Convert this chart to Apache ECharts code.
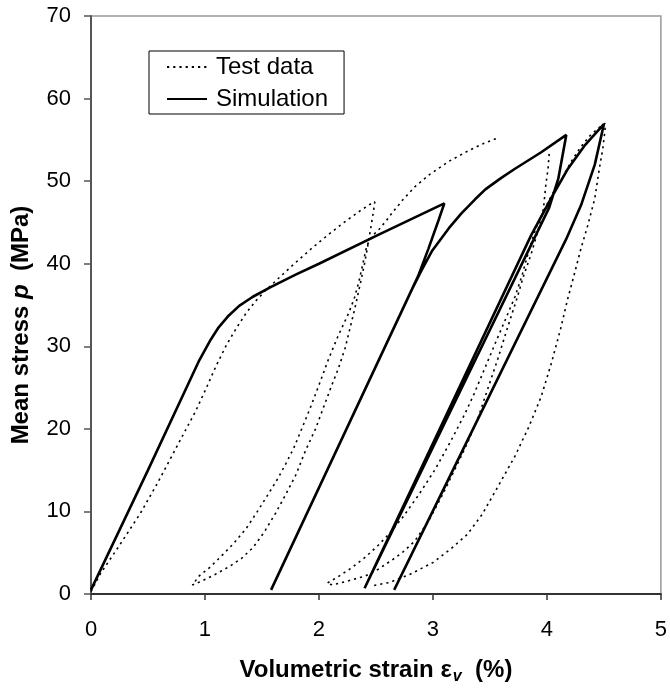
<!DOCTYPE html>
<html>
<head>
<meta charset="utf-8">
<script src="https://cdn.jsdelivr.net/npm/echarts@6/dist/echarts.min.js"></script>
<style>
html,body{margin:0;padding:0;background:#fff;}
#c{width:670px;height:690px;}
</style>
</head>
<body>
<div id="c"></div>
<script>
// ---- Axis ticks ----
const xTicks = [0, 1, 2, 3, 4, 5];
const yTicks = [0, 10, 20, 30, 40, 50, 60, 70];

// ---- Simulation (one continuous path: load, unload, reload ...) ----
const simX = [0, 0.5, 0.95, 1.05, 1.12, 1.2, 1.3, 1.42, 1.58, 1.8, 2.0, 2.52, 3.10,
  3.05, 2.96, 2.87, 1.58,
  2.82, 2.90, 2.99, 3.14, 3.25, 3.37, 3.46, 3.60, 3.72, 3.95, 4.17,
  4.10, 4.02, 2.40,
  3.86, 3.93, 4.04, 4.18, 4.33, 4.50,
  4.42, 4.30, 4.17, 2.66];
const simY = [0.5, 15.0, 28.3, 30.8, 32.3, 33.6, 34.9, 36.0, 37.2, 38.7, 40.0, 43.5, 47.3,
  45.3, 41.8, 38.5, 0.5,
  37.0, 39.2, 41.5, 44.3, 46.1, 47.8, 49.0, 50.4, 51.5, 53.5, 55.6,
  50.3, 46.8, 0.7,
  43.4, 45.2, 48.0, 51.4, 54.3, 56.9,
  52.0, 47.1, 43.0, 0.5];

// ---- Test data, part 1: first loading, first unloading, reloading ----
const test1X = [0, 0.08, 0.25, 0.43, 0.57, 0.69, 0.82, 0.92, 1.01, 1.10, 1.19, 1.28, 1.36, 1.44, 1.52, 1.65, 1.80, 1.94, 2.08, 2.23, 2.36, 2.46, 2.49,
  2.48, 2.46, 2.43, 2.40, 2.36, 2.32, 2.28, 2.23, 2.17, 2.11, 2.04, 1.97, 1.88, 1.80, 1.71, 1.62, 1.52, 1.42, 1.32, 1.21, 1.08, 0.96, 0.89,
  0.88, 0.95, 1.04, 1.13, 1.25, 1.36, 1.46, 1.56, 1.64, 1.71, 1.78, 1.84, 1.92, 2.00, 2.08, 2.16, 2.26, 2.31, 2.35, 2.39, 2.42, 2.47, 2.53, 2.59, 2.65, 2.74, 2.84, 2.97, 3.14, 3.30, 3.45, 3.58];
const test1Y = [0.3, 2.4, 5.9, 9.7, 13.1, 16.2, 19.6, 22.2, 24.9, 27.7, 30.2, 32.3, 34.0, 35.4, 36.6, 38.3, 40.2, 41.9, 43.5, 45.1, 46.4, 47.3, 47.5,
  46.5, 44.8, 42.3, 40.0, 37.4, 34.9, 32.6, 29.8, 27.3, 25.2, 22.6, 20.0, 17.3, 14.5, 12.1, 9.8, 7.5, 5.6, 4.3, 3.3, 2.3, 1.5, 1.1,
  1.3, 2.2, 3.2, 4.4, 6.1, 7.9, 10.0, 12.2, 14.0, 15.8, 17.7, 19.7, 22.4, 25.3, 28.3, 31.0, 34.0, 35.8, 37.8, 40.3, 42.2, 43.4, 44.2, 45.2, 46.3, 47.8, 49.3, 50.8, 52.4, 53.6, 54.6, 55.3];

// ---- Test data, part 2: second unloading, reloading, final unloading ----
const test2X = [4.02, 4.01, 3.99, 3.97, 3.92, 3.86, 3.79, 3.74, 3.66, 3.57, 3.48, 3.40, 3.31, 3.20, 3.08, 2.96, 2.84, 2.73, 2.64, 2.52, 2.41, 2.26, 2.12,
  2.07, 2.18, 2.29, 2.41, 2.52, 2.61, 2.73, 2.87, 3.02, 3.16, 3.28, 3.36, 3.46, 3.56, 3.65, 3.72, 3.78, 3.84, 3.90, 3.97, 4.05, 4.14, 4.21, 4.29, 4.37, 4.45, 4.51,
  4.51, 4.49, 4.46, 4.42, 4.36, 4.30, 4.24, 4.18, 4.12, 4.04, 3.95, 3.84, 3.72, 3.57, 3.43, 3.30, 3.16, 3.00, 2.80, 2.62, 2.47];
const test2Y = [53.3, 51.5, 49.5, 46.7, 43.9, 41.1, 38.3, 35.9, 32.5, 28.5, 24.8, 21.5, 18.5, 15.3, 11.9, 8.8, 6.4, 5.0, 4.1, 3.0, 2.2, 1.6, 1.1,
  1.3, 2.2, 3.2, 4.5, 5.9, 7.2, 9.2, 11.9, 15.1, 18.6, 21.8, 24.2, 27.5, 30.8, 33.7, 36.0, 38.5, 41.5, 44.2, 46.4, 48.5, 50.5, 52.3, 54.0, 55.4, 56.4, 57.0,
  56.2, 53.9, 51.5, 47.9, 44.7, 41.9, 38.7, 35.6, 32.1, 28.0, 23.9, 20.2, 16.7, 13.0, 9.6, 7.2, 5.5, 3.8, 2.4, 1.4, 1.0];

function zip(xs, ys) { return xs.map((x, i) => [x, ys[i]]); }

const FONT = 'Liberation Sans, Arial, sans-serif';
const chart = echarts.init(document.getElementById('c'), null, {renderer: 'canvas'});

const testStyle = {color: '#000', width: 1.6, type: [2.2, 4]};
const simStyle = {color: '#000', width: 2.6, type: 'solid'};

chart.setOption({
  animation: false,
  backgroundColor: '#fff',
  textStyle: {fontFamily: FONT, color: '#000'},
  grid: {left: 91, right: 7, top: 16, bottom: 91, show: true, borderColor: '#999', borderWidth: 1.5, backgroundColor: 'transparent'},
  legend: {
    orient: 'vertical', left: 149, top: 51,
    data: ['Test data', 'Simulation'],
    itemWidth: 40, itemHeight: 14, itemGap: 8,
    padding: [4, 16, 3, 17],
    borderColor: '#000', borderWidth: 1, backgroundColor: '#fff', borderRadius: 0,
    itemStyle: {opacity: 0},
    textStyle: {fontSize: 24, color: '#000', fontFamily: FONT, padding: [0, 0, 0, 4]}
  },
  xAxis: {
    type: 'value', min: xTicks[0], max: xTicks[xTicks.length - 1], interval: 1,
    name: '{a|Volumetric strain ε}{s|v}{a|  (%)}',
    nameLocation: 'middle', nameGap: 61,
    nameTextStyle: {
      rich: {
        a: {fontSize: 24, fontWeight: 'bold', fontFamily: FONT, color: '#000'},
        s: {fontSize: 16, fontWeight: 'bold', fontStyle: 'italic', fontFamily: FONT, color: '#000', padding: [14, 0, 0, 1]}
      }
    },
    axisLine: {show: true, lineStyle: {color: '#333', width: 2}},
    axisTick: {show: true, inside: false, length: 6, lineStyle: {color: '#333', width: 1.5}},
    axisLabel: {fontSize: 22, color: '#000', fontFamily: FONT, margin: 25},
    splitLine: {show: false}
  },
  yAxis: {
    type: 'value', min: yTicks[0], max: yTicks[yTicks.length - 1], interval: 10,
    name: '{a|Mean stress }{i|p}{a|  (MPa)}',
    nameLocation: 'middle', nameGap: 58, nameRotate: 90,
    nameTextStyle: {
      padding: [0, 40, 0, 0],
      rich: {
        a: {fontSize: 24, fontWeight: 'bold', fontFamily: FONT, color: '#000'},
        i: {fontSize: 24, fontWeight: 'bold', fontStyle: 'italic', fontFamily: FONT, color: '#000'}
      }
    },
    axisLine: {show: true, lineStyle: {color: '#555', width: 2}},
    axisTick: {show: true, inside: false, length: 7, lineStyle: {color: '#555', width: 1.5}},
    axisLabel: {fontSize: 22, color: '#000', fontFamily: FONT, margin: 20},
    splitLine: {show: false}
  },
  series: [
    {name: 'Test data', type: 'line', data: zip(test1X, test1Y), showSymbol: false, symbol: 'none', lineStyle: testStyle, itemStyle: {color: '#000'}, z: 2},
    {name: 'Test data', type: 'line', data: zip(test2X, test2Y), showSymbol: false, symbol: 'none', lineStyle: testStyle, itemStyle: {color: '#000'}, z: 2},
    {name: 'Simulation', type: 'line', data: zip(simX, simY), showSymbol: false, symbol: 'none', lineStyle: simStyle, itemStyle: {color: '#000'}, z: 3}
  ]
});
</script>
</body>
</html>
